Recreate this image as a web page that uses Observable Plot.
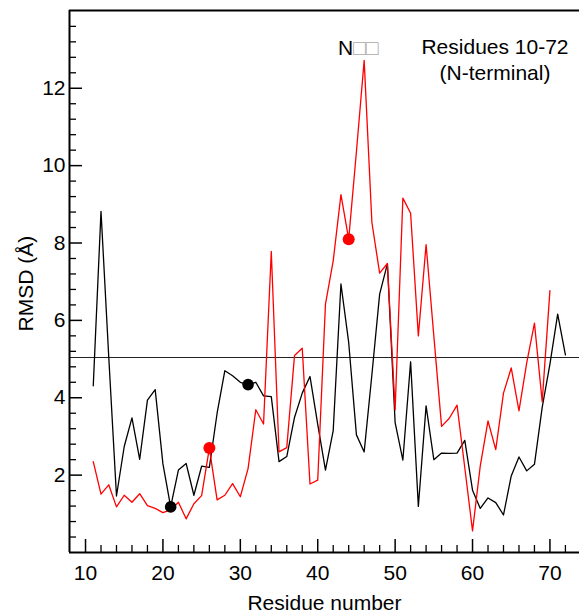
<!DOCTYPE html>
<html><head><meta charset="utf-8">
<script src="https://cdn.jsdelivr.net/npm/d3@7"></script>
<script src="https://cdn.jsdelivr.net/npm/@observablehq/plot@0.6"></script>
<style>body{margin:0;background:#fff}svg{display:block}</style>
</head><body><div id="chart"></div>
<script>
const blackResidues = [11,12,13,14,15,16,17,18,19,20,21,22,23,24,25,26,27,28,29,30,31,32,33,34,35,36,37,38,39,40,41,42,43,44,45,46,47,48,49,50,51,52,53,54,55,56,57,58,59,60,61,62,63,64,65,66,67,68,69,70,71,72];
const blackRMSD = [4.31,8.82,5.06,1.46,2.74,3.48,2.41,3.94,4.21,2.29,1.18,2.13,2.30,1.48,2.23,2.20,3.60,4.70,4.57,4.40,4.34,4.40,4.05,4.03,2.35,2.48,3.49,4.12,4.55,3.31,2.13,3.15,6.94,5.43,3.04,2.60,4.60,6.68,7.46,3.36,2.39,4.93,1.19,3.79,2.40,2.57,2.56,2.57,2.90,1.61,1.14,1.41,1.29,0.97,1.98,2.47,2.11,2.28,3.75,4.87,6.16,5.11];
const redResidues = [11,12,13,14,15,16,17,18,19,20,21,22,23,24,25,26,27,28,29,30,31,32,33,34,35,36,37,38,39,40,41,42,43,44,45,46,47,48,49,50,51,52,53,54,55,56,57,58,59,60,61,62,63,64,65,66,67,68,69,70];
const redRMSD = [2.35,1.51,1.75,1.18,1.48,1.30,1.52,1.21,1.14,1.03,1.10,1.30,0.87,1.26,1.47,2.70,1.36,1.48,1.78,1.44,2.17,3.69,3.32,7.78,2.60,2.71,5.09,5.28,1.77,1.87,6.42,7.54,9.25,8.10,10.36,12.72,8.53,7.22,7.47,3.69,9.16,8.77,5.60,7.96,5.60,3.26,3.47,3.81,2.19,0.56,2.24,3.40,2.66,4.12,4.77,3.66,4.90,5.93,3.90,6.77];
const blackMarked = [21, 31];
const redMarked = [26, 44];
const threshold = 5.04;
const xMajor = [10,20,30,40,50,60,70];
const xMinor = [12,14,16,18,22,24,26,28,32,34,36,38,42,44,46,48,52,54,56,58,62,64,66,68,72];
const yMajor = [2,4,6,8,10,12];
const yMinor = [0.4,0.8,1.2,1.6,2.4,2.8,3.2,3.6,4.4,4.8,5.2,5.6,6.4,6.8,7.2,7.6,8.4,8.8,9.2,9.6,10.4,10.8,11.2,11.6,12.4,12.8,13.2,13.6];
const xDomain = [7.93, 73.82];
const yDomain = [0, 14.01];
const xTitle = "Residue number";
const yTitle = "RMSD (Å)";
const peakLabel = "N□□";
const boxLabel = "Residues 10-72\n(N-terminal)";

const black = blackResidues.map((r, i) => ({r, v: blackRMSD[i]}));
const red = redResidues.map((r, i) => ({r, v: redRMSD[i]}));
const blackDots = black.filter(d => blackMarked.includes(d.r));
const redDots = red.filter(d => redMarked.includes(d.r));
const redPeak = red.reduce((a, b) => (b.v > a.v ? b : a));

const W = 579, H = 615, mL = 69, mT = 10, mR = 0, mB = 63;
const pw = W - mL - mR, ph = H - mT - mB;
const font = "'Liberation Sans', Arial, Helvetica, sans-serif";
const fs = 21;

const chart = Plot.plot({
  width: W, height: H,
  marginLeft: mL, marginTop: mT, marginRight: mR, marginBottom: mB,
  style: {fontFamily: font, fontSize: fs + "px", background: "#fff", overflow: "visible"},
  x: {domain: xDomain, axis: null},
  y: {domain: yDomain, axis: null},
  marks: [
    Plot.ruleY([threshold], {stroke: "#222", strokeWidth: 1.2}),
    Plot.line(black, {x: "r", y: "v", stroke: "#000", strokeWidth: 1.3}),
    Plot.line(red, {x: "r", y: "v", stroke: "#ff0000", strokeWidth: 1.3}),
    Plot.dot(blackDots, {x: "r", y: "v", r: 5.8, fill: "#000", stroke: null}),
    Plot.dot(redDots, {x: "r", y: "v", r: 6, fill: "#ff0000", stroke: null}),
    // frame: left, top, bottom
    Plot.ruleX([xDomain[0]], {stroke: "#000", strokeWidth: 2}),
    Plot.ruleY([yDomain[0]], {stroke: "#000", strokeWidth: 2}),
    Plot.ruleY([yDomain[1]], {stroke: "#000", strokeWidth: 2}),
    // inward ticks
    Plot.ruleX(xMajor, {x: d => d, insetTop: ph - 13, stroke: "#000", strokeWidth: 1.5}),
    Plot.ruleX(xMinor, {x: d => d, insetTop: ph - 7, stroke: "#000", strokeWidth: 1.3}),
    Plot.ruleY(yMajor, {y: d => d, insetRight: pw - 13, stroke: "#000", strokeWidth: 1.5}),
    Plot.ruleY(yMinor, {y: d => d, insetRight: pw - 7, stroke: "#000", strokeWidth: 1.3}),
    // tick labels
    Plot.text(xMajor, {x: d => d, frameAnchor: "bottom", dy: 27, text: d => String(d), fill: "#000", fontSize: fs}),
    Plot.text(yMajor, {y: d => d, frameAnchor: "left", dx: -4, textAnchor: "end", text: d => String(d), fill: "#000", fontSize: fs}),
    // axis titles
    Plot.text([xTitle], {frameAnchor: "bottom", dy: 57, fill: "#000", fontSize: fs}),
    Plot.text([yTitle], {frameAnchor: "left", dx: -43, dy: 50, rotate: -90, fill: "#000", fontSize: fs}),
    // annotations
    Plot.text([boxLabel], {frameAnchor: "top-right", dx: -84.5, dy: 25, textAnchor: "middle", lineAnchor: "top", lineHeight: 1.24, fill: "#000", fontSize: fs}),
    Plot.text([redPeak], {x: "r", y: "v", text: () => peakLabel, dx: -6, dy: -5, lineAnchor: "bottom", textAnchor: "middle", fill: "#000", fontSize: fs})
  ]
});
document.getElementById("chart").appendChild(chart);

// draw the missing-glyph boxes in grey, as in the source image
d3.select(chart).selectAll("text").each(function() {
  const t = d3.select(this);
  if (t.text() === peakLabel) {
    t.text(null);
    t.append("tspan").text(peakLabel.slice(0, 1));
    t.append("tspan").attr("fill", "#aaa").text(peakLabel.slice(1));
  }
});
</script>
</body></html>
